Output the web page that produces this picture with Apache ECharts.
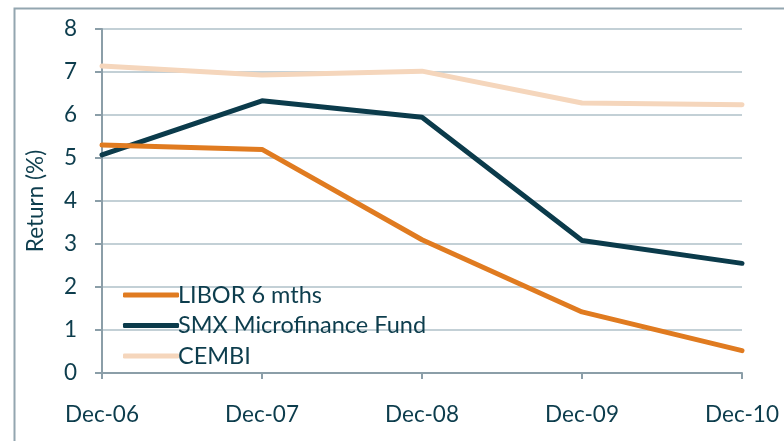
<!DOCTYPE html>
<html><head><meta charset="utf-8">
<script src="https://cdn.jsdelivr.net/npm/echarts@6/dist/echarts.min.js"></script>
<style>html,body{margin:0;padding:0;background:#fff}#c{width:784px;height:441px}</style>
</head><body><div id="c"></div>
<script>
const categories = ['Dec-06','Dec-07','Dec-08','Dec-09','Dec-10'];
const libor = [5.3, 5.2, 3.1, 1.42, 0.52];
const smx = [5.07, 6.33, 5.95, 3.08, 2.55];
const cembi = [7.14, 6.93, 7.02, 6.28, 6.24];
const seriesNames = ['LIBOR 6 mths','SMX Microfinance Fund','CEMBI'];
const colors = ['#E07B20','#0B3B4B','#F5D6BC'];
const textColor = '#0D3D4D';
const font = 'Lato';

const chart = echarts.init(document.getElementById('c'));
const mk = (name, data, color) => ({
  name, type:'line', data, symbol:'none', smooth:false,
  lineStyle:{color, width:5, cap:'round', join:'round'}, itemStyle:{color}
});
chart.setOption({
  animation:false,
  graphic:[{type:'rect', left:12, top:6, shape:{width:1000, height:1000},
    style:{fill:'none', stroke:'#93A6B0', lineWidth:2}, silent:true}],
  grid:{left:102, right:42, top:29, bottom:68, containLabel:false},
  legend:{
    orient:'vertical', left:118, top:278, itemWidth:56, itemHeight:5, itemGap:6.5,
    icon:'roundRect',
    textStyle:{color:textColor, fontFamily:font, fontSize:23.5, lineHeight:24, padding:[0,0,0,-6]},
    data:seriesNames
  },
  xAxis:{
    type:'category', data:categories, boundaryGap:false,
    axisLine:{lineStyle:{color:'#8B9EA8', width:2}},
    axisTick:{show:true, length:6, lineStyle:{color:'#8B9EA8', width:2}},
    axisLabel:{color:textColor, fontFamily:font, fontSize:22.5, margin:30}
  },
  yAxis:{
    type:'value', min:0, max:8, interval:1,
    name:'Return (%)', nameLocation:'middle', nameGap:55, nameRotate:90,
    nameTextStyle:{color:textColor, fontFamily:font, fontSize:22.5},
    axisLine:{show:true, lineStyle:{color:'#8B9EA8', width:2}},
    axisTick:{show:true, length:7, lineStyle:{color:'#8B9EA8', width:2}},
    splitLine:{lineStyle:{color:'#C3D0D6', width:2}},
    axisLabel:{color:textColor, fontFamily:font, fontSize:22.5, margin:25}
  },
  series:[mk(seriesNames[2], cembi, colors[2]), mk(seriesNames[1], smx, colors[1]), mk(seriesNames[0], libor, colors[0])]
});
</script></body></html>
